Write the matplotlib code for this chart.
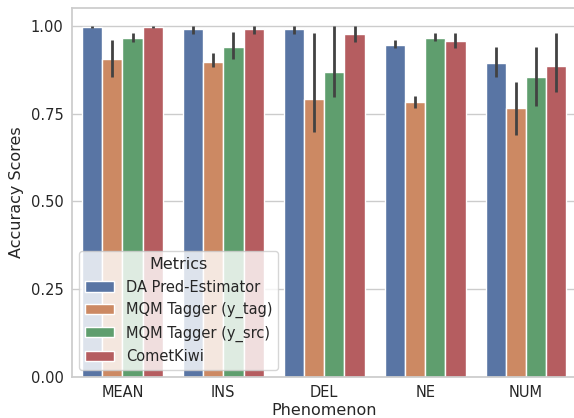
import numpy as np
import pandas as pd
import seaborn as sns
import matplotlib
matplotlib.use("Agg")
import matplotlib.pyplot as plt

# --- datos ---
phenomena = ["MEAN", "INS", "DEL", "NE", "NUM"]
metrics = ["DA Pred-Estimator", "MQM Tagger (y_tag)", "MQM Tagger (y_src)", "CometKiwi"]

# media por fenómeno (una lista por métrica)
da_mean = [0.997, 0.991, 0.991, 0.946, 0.895]
tag_mean = [0.906, 0.897, 0.792, 0.783, 0.766]
src_mean = [0.966, 0.940, 0.869, 0.966, 0.855]
kiwi_mean = [0.997, 0.991, 0.977, 0.957, 0.886]

# intervalos (límite inferior / superior)
da_lo = [0.994, 0.977, 0.977, 0.937, 0.855]
da_hi = [1.000, 1.000, 1.000, 0.960, 0.940]
tag_lo = [0.855, 0.883, 0.698, 0.766, 0.689]
tag_hi = [0.960, 0.923, 0.980, 0.801, 0.840]
src_lo = [0.954, 0.906, 0.798, 0.957, 0.772]
src_hi = [0.980, 0.983, 1.000, 0.980, 0.940]
kiwi_lo = [0.994, 0.977, 0.954, 0.937, 0.812]
kiwi_hi = [1.000, 1.000, 1.000, 0.980, 0.980]

means = [da_mean, tag_mean, src_mean, kiwi_mean]
lows = [da_lo, tag_lo, src_lo, kiwi_lo]
highs = [da_hi, tag_hi, src_hi, kiwi_hi]

df = pd.DataFrame({
    "Phenomenon": phenomena * len(metrics),
    "Metrics": [m for m in metrics for _ in phenomena],
    "Accuracy Scores": sum(means, []),
})

sns.set_theme(style="whitegrid")
plt.rcParams["font.family"] = ["DejaVu Sans"]
plt.rcParams["xtick.labelsize"] = 10.5
plt.rcParams["ytick.labelsize"] = 10.5
plt.rcParams["axes.labelsize"] = 11.5

fig = plt.figure(figsize=(5.74, 4.18), dpi=100)
ax = fig.add_axes([0.1254, 0.0981, 0.879, 0.8828])

sns.barplot(data=df, x="Phenomenon", y="Accuracy Scores", hue="Metrics",
            errorbar=None, ax=ax)

# barras de error dibujadas a partir de cada contenedor
for cont, lo, hi in zip(ax.containers, lows, highs):
    xs = [b.get_x() + b.get_width() / 2 for b in cont]
    ax.vlines(xs, lo, hi, color=".26", linewidth=2.0, zorder=3)

ax.set_ylim(0, 1.0513)
ax.set_yticks([0, 0.25, 0.5, 0.75, 1.0])
ax.set_yticklabels(["0.00", "0.25", "0.50", "0.75", "1.00"])
ax.set_xlim(-0.5, 4.5)
ax.tick_params(axis="both", length=0, pad=6)
ax.xaxis.labelpad = 2
ax.yaxis.labelpad = 5

leg = ax.legend(title="Metrics", loc="lower left", fontsize=10.5, title_fontsize=11.5)

fig.savefig("out.png", dpi=100)
